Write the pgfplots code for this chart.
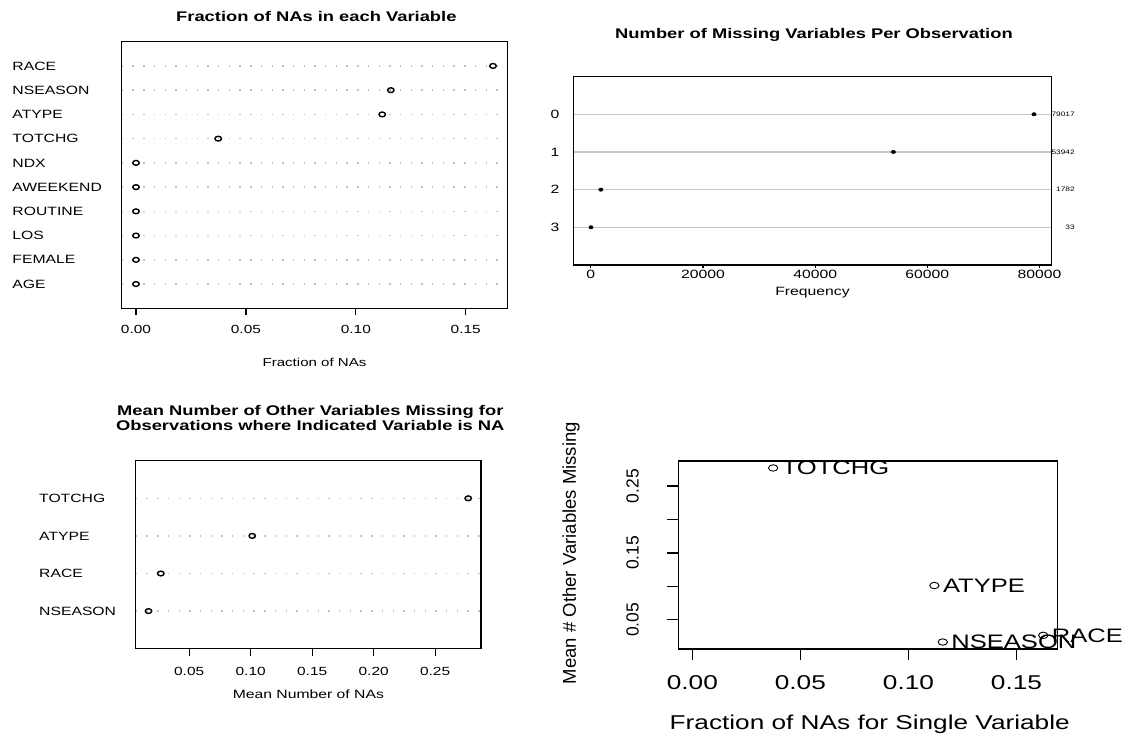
\documentclass[border=0pt]{standalone}
\usepackage{fontspec}
\setmainfont{Liberation Sans}[FakeStretch=1.31]
\newfontfamily\rotfont{Liberation Sans}
\usepackage{pgfplots}
\pgfplotsset{compat=1.18}

\pgfplotsset{
  rbase/.style={
    scale only axis,
    anchor=south west,
    axis line style={line width=1.5pt},
    tick style={line width=1.2pt, black},
    tick align=outside,
    xtick pos=left, ytick pos=left,
    scaled ticks=false,
    clip=false,
  },
  dotgrid/.style={
    ymajorgrids,
    major grid style={gray!50, line width=1.4pt, dash pattern=on 1.4pt off 9.3pt},
  },
}
\newcommand\titlefont{\bfseries\fontsize{14}{15}\selectfont}
\newcommand\labfont{\fontsize{12}{14}\selectfont}

\begin{document}
\begin{tikzpicture}
\path[use as bounding box] (0,0) rectangle (1129pt,738pt);

% top left: fraction of NAs per variable
\begin{axis}[rbase, dotgrid,
  at={(121.7pt,429.7pt)}, width=385.6pt, height=266.6pt,
  xmin=-0.0065, xmax=0.1689, ymin=0, ymax=11,
  xtick={0,0.05,0.1,0.15}, xticklabels={0.00,0.05,0.10,0.15},
  major tick length=7pt,
  xticklabel style={anchor=center, yshift=-14pt, font=\fontsize{11.8}{13}\selectfont},
  ytick={1,...,10},
  yticklabels={AGE,FEMALE,LOS,ROUTINE,AWEEKEND,NDX,TOTCHG,ATYPE,NSEASON,RACE},
  ytick style={draw=none},
  yticklabel style={anchor=west, inner sep=0pt, xshift=-102.4pt, font=\labfont},
  title={Fraction of NAs in each Variable},
  title style={at={(axis description cs:0.5047,1.0525)}, anchor=base, font=\titlefont},
  xlabel={Fraction of NAs},
  xlabel style={at={(axis description cs:0.5,-0.2014)}, anchor=center, font=\fontsize{11.5}{13}\selectfont},
]
\addplot[only marks, mark=o, mark size=2.4pt, mark options={xscale=1.35, line width=1.4pt}]
  coordinates {(0.1624,10) (0.1159,9) (0.1120,8) (0.0374,7) (0,6) (0,5) (0,4) (0,3) (0,2) (0,1)};
\end{axis}

% top right: number of missing variables per observation
\begin{axis}[rbase,
  at={(573.3pt,473pt)}, width=478.4pt, height=188.4pt,
  xmin=-3126, xmax=82176, ymin=-1, ymax=4, y dir=reverse,
  xtick={0,20000,40000,60000,80000}, xticklabels={0,20000,40000,60000,80000},
  major tick length=3pt,
  xticklabel style={anchor=center, yshift=-6pt, font=\labfont},
  ytick={0,1,2,3}, yticklabels={0,1,2,3},
  ytick style={draw=none},
  yticklabel style={anchor=center, inner sep=0pt, xshift=-15.3pt, font=\labfont},
  ymajorgrids, major grid style={gray!45, line width=1.4pt},
  title={Number of Missing Variables Per Observation},
  title style={at={(axis description cs:0.5031,1.1715)}, anchor=base, font=\titlefont},
  xlabel={Frequency},
  xlabel style={at={(axis description cs:0.5,-0.1624)}, anchor=base, font=\labfont},
]
\addplot[only marks, mark=*, mark size=1.7pt, mark options={xscale=1.31}]
  coordinates {(79017,0) (53942,1) (1782,2) (33,3)};
\end{axis}
\begin{axis}[scale only axis, anchor=south west,
  at={(573.3pt,473pt)}, width=478.4pt, height=188.4pt,
  xmin=-3126, xmax=82176, ymin=-1, ymax=4, y dir=reverse,
  hide x axis, axis y line*=right, axis line style={draw=none},
  ytick={0,1,2,3}, yticklabels={79017,53942,1782,33},
  ytick style={draw=none},
  yticklabel style={anchor=east, inner sep=0pt, xshift=23.3pt, font=\fontsize{6.4}{7}\selectfont},
]
\addplot[draw=none] coordinates {(0,0)};
\end{axis}

% bottom left: mean number of other variables missing
\begin{axis}[rbase, dotgrid,
  at={(135.7pt,89.3pt)}, width=345.3pt, height=188pt,
  xmin=0.0065, xmax=0.2873, ymin=0, ymax=5,
  xtick={0.05,0.1,0.15,0.2,0.25}, xticklabels={0.05,0.10,0.15,0.20,0.25},
  major tick length=7pt,
  xticklabel style={anchor=center, yshift=-16pt, font=\fontsize{11.8}{13}\selectfont},
  ytick={1,2,3,4}, yticklabels={NSEASON,RACE,ATYPE,TOTCHG},
  ytick style={draw=none},
  yticklabel style={anchor=west, inner sep=0pt, xshift=-89.7pt, font=\labfont},
  title={Mean Number of Other Variables Missing for\\Observations where Indicated Variable is NA},
  title style={at={(axis description cs:0.5056,1.126)}, anchor=south, align=center, inner sep=0pt, font=\titlefont},
  xlabel={Mean Number of NAs},
  xlabel style={at={(axis description cs:0.5,-0.241)}, anchor=center, font=\labfont},
]
\addplot[only marks, mark=o, mark size=2.4pt, mark options={xscale=1.35, line width=1.4pt}]
  coordinates {(0.2769,4) (0.1013,3) (0.0269,2) (0.0169,1)};
\end{axis}

% bottom right: scatter of the two measures
\begin{axis}[rbase,
  at={(678.3pt,89pt)}, width=379pt, height=188pt,
  xmin=-0.0065, xmax=0.1689, ymin=0.0065, ymax=0.2873,
  xtick={0,0.05,0.1,0.15}, xticklabels={0.00,0.05,0.10,0.15},
  ytick={0.05,0.1,0.15,0.2,0.25}, yticklabels={0.05,,0.15,,0.25},
  major tick length=11pt,
  xticklabel style={anchor=center, yshift=-22.7pt, font=\fontsize{20}{22}\selectfont},
  yticklabel style={xshift=-34.8pt, rotate=90, anchor=center, font=\rotfont\fontsize{17.5}{19}\selectfont},
  xlabel={Fraction of NAs for Single Variable},
  xlabel style={at={(axis description cs:0.505,-0.4293)}, anchor=base, font=\fontsize{20}{22}\selectfont},
  ylabel={Mean \# Other Variables Missing},
  ylabel style={at={(axis description cs:-0.2831,0.51)}, anchor=center, font=\rotfont\fontsize{18.5}{20}\selectfont},
]
\addplot[only marks, mark=o, mark size=3.2pt, mark options={xscale=1.45, line width=0.9pt},
  nodes near coords, point meta=explicit symbolic,
  nodes near coords style={anchor=west, inner sep=0pt, xshift=8.2pt, font=\fontsize{19.5}{21}\selectfont}]
  coordinates {(0.0374,0.2769)[TOTCHG] (0.1120,0.1013)[ATYPE] (0.1624,0.0269)[RACE] (0.1159,0.0169)[NSEASON]};
\end{axis}
\end{tikzpicture}
\end{document}
